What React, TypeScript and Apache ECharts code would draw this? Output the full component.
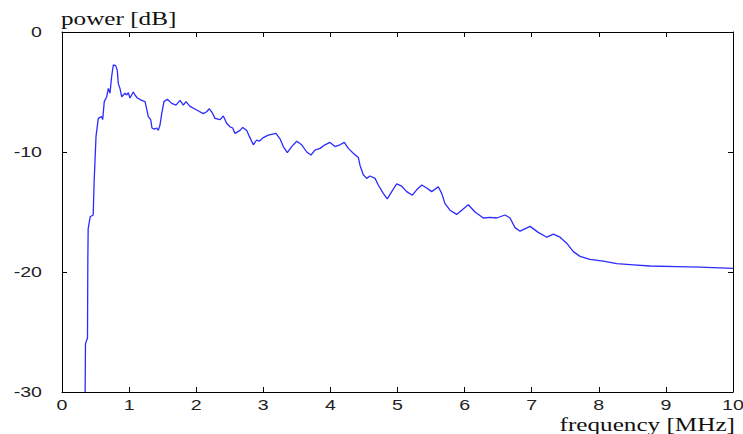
import React, { useEffect, useRef } from "react";
import * as echarts from "echarts";

const freqMHz = [
  0.345, 0.35, 0.36, 0.38, 0.385, 0.39, 0.42, 0.465, 0.48, 0.507, 0.541, 0.592, 0.606, 0.63, 0.666, 0.69,
  0.715, 0.74, 0.765, 0.8, 0.824, 0.839, 0.864, 0.89, 0.939, 0.964, 0.988, 1.013, 1.038, 1.063, 1.088,
  1.122, 1.188, 1.237, 1.262, 1.286, 1.322, 1.341, 1.376, 1.411, 1.435, 1.461, 1.486, 1.52, 1.57, 1.635,
  1.699, 1.759, 1.808, 1.848, 1.908, 2.007, 2.106, 2.156, 2.195, 2.231, 2.28, 2.355, 2.404, 2.454, 2.504,
  2.544, 2.578, 2.653, 2.693, 2.753, 2.792, 2.851, 2.901, 2.94, 3.0, 3.074, 3.189, 3.249, 3.298, 3.358,
  3.423, 3.498, 3.572, 3.647, 3.711, 3.77, 3.845, 3.919, 3.994, 4.069, 4.143, 4.207, 4.267, 4.341, 4.416,
  4.441, 4.49, 4.541, 4.59, 4.665, 4.714, 4.788, 4.848, 4.914, 4.988, 5.063, 5.137, 5.221, 5.286, 5.361,
  5.435, 5.51, 5.608, 5.659, 5.708, 5.782, 5.882, 5.957, 6.055, 6.155, 6.279, 6.379, 6.478, 6.602, 6.677,
  6.751, 6.826, 6.975, 7.098, 7.224, 7.322, 7.422, 7.521, 7.62, 7.72, 7.869, 8.067, 8.267, 8.514, 8.763,
  9.161, 9.508, 10.0,
];

const powerDb = [
  -30, -26, -25.8, -25.5, -19, -16.4, -15.4, -15.25, -12.3, -8.7, -7.2, -7.05, -7.3, -5.8, -5.4, -4.7,
  -5.1, -3.7, -2.75, -2.8, -3.2, -4.3, -4.7, -5.4, -5.1, -5.25, -5.05, -5.5, -5.25, -5.0, -5.25,
  -5.5, -5.7, -5.8, -6.4, -7.05, -7.3, -8.0, -8.1, -8.0, -8.2, -7.75, -6.8, -5.8, -5.6, -5.95,
  -6.1, -5.7, -6.1, -5.8, -6.2, -6.5, -6.8, -6.65, -6.4, -6.65, -7.2, -7.3, -7.0, -7.6, -7.9,
  -8.0, -8.45, -8.2, -7.95, -8.2, -8.7, -9.4, -9.0, -9.1, -8.8, -8.6, -8.45, -8.9, -9.55, -10.05,
  -9.55, -9.1, -9.4, -10.0, -10.25, -9.85, -9.7, -9.4, -9.2, -9.55, -9.4, -9.2, -9.7, -10.1, -10.45,
  -11.1, -11.9, -12.2, -12.0, -12.2, -12.75, -13.45, -13.9, -13.3, -12.65, -12.85, -13.3, -13.6, -13.15, -12.75,
  -13.0, -13.3, -12.9, -13.45, -14.3, -14.85, -15.2, -14.85, -14.4, -15.0, -15.5, -15.45, -15.5, -15.25, -15.5,
  -16.3, -16.6, -16.2, -16.7, -17.1, -16.85, -17.1, -17.6, -18.3, -18.7, -18.95, -19.1, -19.3, -19.4, -19.5,
  -19.55, -19.6, -19.7,
];

const xTickValues = [0, 1, 2, 3, 4, 5, 6, 7, 8, 9, 10];
const yTickValues = [0, -10, -20, -30];

const xTitle = "frequency [MHz]";
const yTitle = "power [dB]";

export default function App() {
  const ref = useRef<HTMLDivElement>(null);
  useEffect(() => {
    document.body.style.margin = "0";
    const chart = echarts.init(ref.current!, null, { renderer: "svg" });
    const data = freqMHz.map((f, i) => [f, powerDb[i]]);
    const tickStyle = { show: true, inside: true, length: 5, lineStyle: { color: "#000", width: 1 } };
    const axisLine = { show: true, onZero: false, lineStyle: { color: "#000", width: 1 } };
    const stretch = 1.4;
    chart.setOption({
      animation: false,
      backgroundColor: "#fff",
      grid: { left: 62, right: 10, top: 32, bottom: 42, containLabel: false },
      xAxis: [
        {
          type: "value", min: 0, max: 10, interval: 1, position: "bottom",
          axisLine, axisTick: tickStyle, splitLine: { show: false }, axisLabel: { show: false },
        },
        {
          type: "value", min: 0, max: 10, interval: 1, position: "top",
          axisLine, axisTick: tickStyle, splitLine: { show: false }, axisLabel: { show: false },
        },
      ],
      yAxis: [
        {
          type: "value", min: -30, max: 0, interval: 10, position: "left",
          axisLine, axisTick: tickStyle, splitLine: { show: false }, axisLabel: { show: false },
        },
        {
          type: "value", min: -30, max: 0, interval: 10, position: "right",
          axisLine, axisTick: tickStyle, splitLine: { show: false }, axisLabel: { show: false },
        },
      ],
      series: [
        {
          type: "line", data, showSymbol: false, symbol: "none", clip: true,
          xAxisIndex: 0, yAxisIndex: 0,
          lineStyle: { color: "#2b2bff", width: 1.3 },
        },
      ],
    });

    const labelFont = "14px 'Liberation Sans', Arial, sans-serif";
    const titleFont = "18px 'Liberation Serif', 'Times New Roman', serif";
    const graphics: any[] = [];
    xTickValues.forEach((v) => {
      const px = chart.convertToPixel({ xAxisIndex: 0 }, v) as number;
      graphics.push({
        type: "text", x: px, y: 398, scaleX: stretch, silent: true,
        style: { text: String(v), font: labelFont, fill: "#222", align: "center", verticalAlign: "top" },
      });
    });
    yTickValues.forEach((v) => {
      const py = chart.convertToPixel({ yAxisIndex: 0 }, v) as number;
      graphics.push({
        type: "text", x: 42, y: py, scaleX: stretch, silent: true,
        style: { text: String(v), font: labelFont, fill: "#222", align: "right", verticalAlign: "middle" },
      });
    });
    graphics.push({
      type: "text", x: 61, y: 28, scaleX: stretch, silent: true,
      style: { text: yTitle, font: titleFont, fill: "#111", align: "left", verticalAlign: "bottom" },
    });
    graphics.push({
      type: "text", x: 735, y: 434, scaleX: stretch, silent: true,
      style: { text: xTitle, font: titleFont, fill: "#111", align: "right", verticalAlign: "bottom" },
    });
    chart.setOption({ graphic: graphics });
    return () => chart.dispose();
  }, []);
  return <div ref={ref} style={{ width: 743, height: 434 }} />;
}
